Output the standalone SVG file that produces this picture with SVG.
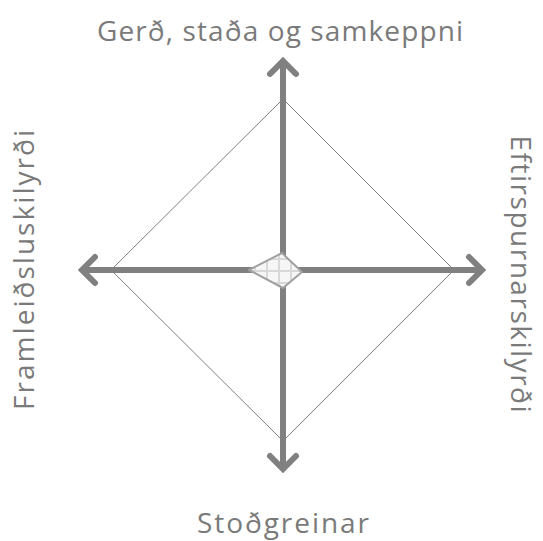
<svg xmlns="http://www.w3.org/2000/svg" width="543" height="541" viewBox="0 0 543 541">
<style>
.lbl{font-family:"Open Sans","DejaVu Sans",sans-serif;font-size:28px;fill:#7a7a7a;text-anchor:middle}
.axis{stroke:#808080;stroke-width:6;fill:none;stroke-linecap:butt}
.head{stroke:#808080;stroke-width:6;fill:none;stroke-linecap:round;stroke-linejoin:miter}
</style>
<defs>
<pattern id="chk" width="12" height="12" patternUnits="userSpaceOnUse" x="249" y="253">
<rect width="12" height="12" fill="#f6f6f6"/>
<rect x="0" y="5" width="12" height="2" fill="#d8d8d8"/>
<rect x="5" y="0" width="2" height="12" fill="#d8d8d8"/>
</pattern>
</defs>
<rect width="543" height="541" fill="#ffffff"/>
<g id="diamond">
<polygon points="283,99 454,270 283,441 111,270" fill="none" stroke="#808080" stroke-width="1"/>
</g>
<g id="connectors">
<line class="axis" x1="283" y1="62" x2="283" y2="466"/>
<line class="axis" x1="84" y1="270" x2="480" y2="270"/>
<polyline class="head" points="270,74 283,61 296,74"/>
<polyline class="head" points="270,456 283,469 296,456"/>
<polyline class="head" points="95,257 82,270 95,283"/>
<polyline class="head" points="469,257 482,270 469,283"/>
</g>
<g id="center">
<polygon points="282,253 302,272 283,288 249,270" fill="url(#chk)" stroke="#a0a0a0" stroke-width="2" stroke-linejoin="round"/>
</g>
<g id="top"><text class="lbl" x="280" y="41" textLength="366" lengthAdjust="spacing">Gerð, staða og samkeppni</text></g>
<g id="bottom"><text class="lbl" x="283" y="533" textLength="172" lengthAdjust="spacing">Stoðgreinar</text></g>
<g id="left"><text class="lbl" transform="translate(34,270) rotate(-90)" textLength="280" lengthAdjust="spacing">Framleiðsluskilyrði</text></g>
<g id="right"><text class="lbl" transform="translate(511,274) rotate(90)" textLength="277" lengthAdjust="spacing">Eftirspurnarskilyrði</text></g>
</svg>
